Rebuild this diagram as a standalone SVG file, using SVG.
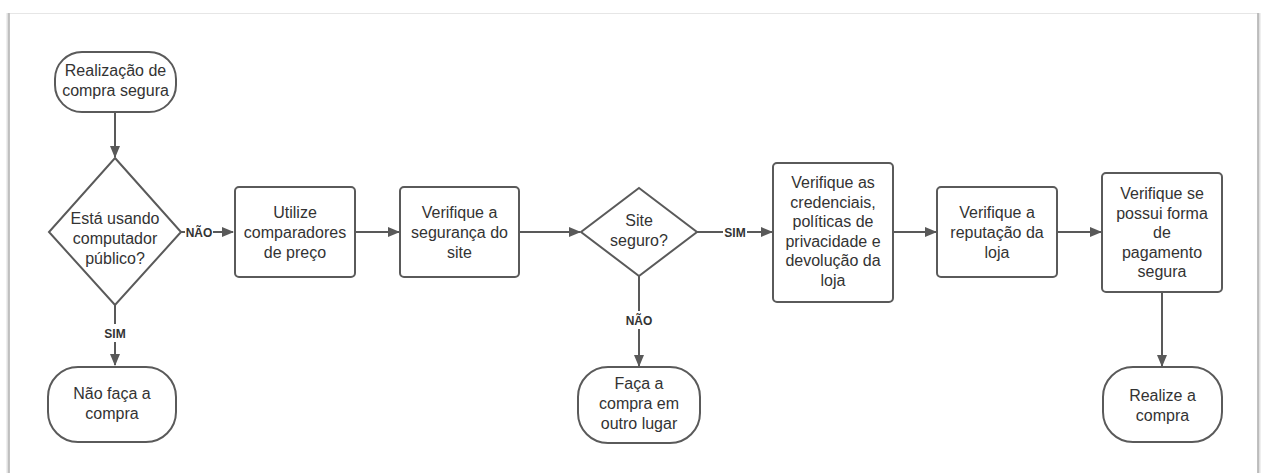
<svg xmlns="http://www.w3.org/2000/svg" width="1265" height="473" viewBox="0 0 1265 473">
<defs>
<marker id="ah" markerWidth="12" markerHeight="10" refX="11" refY="5" orient="auto" markerUnits="userSpaceOnUse">
<path d="M0,0 L12,5 L0,10 Z" fill="#595959"/>
</marker>
<style>
.sh{fill:#fff;stroke:#5a5a5a;stroke-width:2}
.t{font-family:"Liberation Sans",Arial,sans-serif;font-size:16px;fill:#333;text-anchor:middle}
.lb{font-family:"Liberation Sans",Arial,sans-serif;font-size:12px;font-weight:bold;fill:#333;text-anchor:middle}
.c{fill:none;stroke:#595959;stroke-width:2}
</style>
</defs>
<rect width="1265" height="473" fill="#fff"/>
<g id="frame">
<line x1="10" y1="13.5" x2="1258" y2="13.5" stroke="#e6e6e6" stroke-width="1"/>
<line x1="8" y1="13" x2="8" y2="473" stroke="#e0e0e0" stroke-width="3"/>
<line x1="9" y1="13" x2="9" y2="473" stroke="#b5b5b5" stroke-width="1.5"/>
<line x1="1259" y1="13" x2="1259" y2="473" stroke="#e0e0e0" stroke-width="3"/>
<line x1="1258" y1="13" x2="1258" y2="473" stroke="#b0b0b0" stroke-width="1.5"/>
</g>
<g id="connectors">
<line class="c" x1="115" y1="112" x2="115" y2="157" marker-end="url(#ah)"/>
<line class="c" x1="181" y1="232" x2="233" y2="232" marker-end="url(#ah)"/>
<line class="c" x1="115" y1="305" x2="115" y2="365" marker-end="url(#ah)"/>
<line class="c" x1="355" y1="232" x2="399" y2="232" marker-end="url(#ah)"/>
<line class="c" x1="519" y1="232" x2="580" y2="232" marker-end="url(#ah)"/>
<line class="c" x1="697" y1="232" x2="772" y2="232" marker-end="url(#ah)"/>
<line class="c" x1="639" y1="276" x2="639" y2="366" marker-end="url(#ah)"/>
<line class="c" x1="893" y1="232" x2="936" y2="232" marker-end="url(#ah)"/>
<line class="c" x1="1057" y1="232" x2="1101" y2="232" marker-end="url(#ah)"/>
<line class="c" x1="1162" y1="292" x2="1162" y2="366" marker-end="url(#ah)"/>
<rect x="185" y="224" width="28" height="16" fill="#fff"/>
<text class="lb" x="199" y="236.5">NÃO</text>
<rect x="103" y="324" width="24" height="18" fill="#fff"/>
<text class="lb" x="115" y="338">SIM</text>
<rect x="723" y="224" width="24" height="16" fill="#fff"/>
<text class="lb" x="735" y="236.5">SIM</text>
<rect x="624" y="311" width="30" height="18" fill="#fff"/>
<text class="lb" x="639" y="325">NÃO</text>
</g>
<g id="start">
<rect class="sh" x="55" y="52" width="121" height="60" rx="27"/>
<text class="t" x="115.5" y="76">Realização de</text>
<text class="t" x="115.5" y="96">compra segura</text>
</g>
<g id="dec1">
<polygon class="sh" points="115,158 181,232 115,305 49,232"/>
<text class="t" x="115" y="224">Está usando</text>
<text class="t" x="115" y="244">computador</text>
<text class="t" x="115" y="264">público?</text>
</g>
<g id="end1">
<rect class="sh" x="48" y="367" width="128" height="75" rx="30"/>
<text class="t" x="112" y="399">Não faça a</text>
<text class="t" x="112" y="419">compra</text>
</g>
<g id="compare">
<rect class="sh" x="235" y="187" width="120" height="90" rx="4"/>
<text class="t" x="295" y="218">Utilize</text>
<text class="t" x="295" y="238">comparadores</text>
<text class="t" x="295" y="258">de preço</text>
</g>
<g id="security">
<rect class="sh" x="400" y="187" width="119" height="90" rx="4"/>
<text class="t" x="459.5" y="218">Verifique a</text>
<text class="t" x="459.5" y="238">segurança do</text>
<text class="t" x="459.5" y="258">site</text>
</g>
<g id="dec2">
<polygon class="sh" points="639,188 697,232 639,276 581,232"/>
<text class="t" x="639" y="226">Site</text>
<text class="t" x="639" y="246">seguro?</text>
</g>
<g id="end2">
<rect class="sh" x="578" y="367" width="122" height="76" rx="30"/>
<text class="t" x="639" y="389">Faça a</text>
<text class="t" x="639" y="409">compra em</text>
<text class="t" x="639" y="429">outro lugar</text>
</g>
<g id="credentials">
<rect class="sh" x="773" y="163" width="120" height="139" rx="4"/>
<text class="t" x="833" y="188">Verifique as</text>
<text class="t" x="833" y="207.5">credenciais,</text>
<text class="t" x="833" y="227">políticas de</text>
<text class="t" x="833" y="246.5">privacidade e</text>
<text class="t" x="833" y="266">devolução da</text>
<text class="t" x="833" y="285.5">loja</text>
</g>
<g id="reputation">
<rect class="sh" x="937" y="187" width="120" height="90" rx="4"/>
<text class="t" x="997" y="218">Verifique a</text>
<text class="t" x="997" y="238">reputação da</text>
<text class="t" x="997" y="258">loja</text>
</g>
<g id="payment">
<rect class="sh" x="1102" y="173" width="120" height="119" rx="4"/>
<text class="t" x="1162" y="199">Verifique se</text>
<text class="t" x="1162" y="218.5">possui forma</text>
<text class="t" x="1162" y="238">de</text>
<text class="t" x="1162" y="257.5">pagamento</text>
<text class="t" x="1162" y="277">segura</text>
</g>
<g id="end3">
<rect class="sh" x="1103" y="367" width="119" height="75" rx="30"/>
<text class="t" x="1162.5" y="401">Realize a</text>
<text class="t" x="1162.5" y="421">compra</text>
</g>
</svg>
